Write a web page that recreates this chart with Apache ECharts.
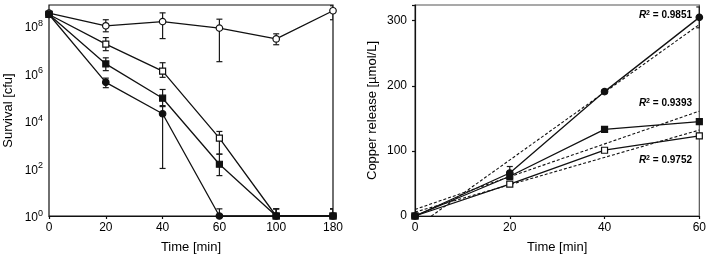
<!DOCTYPE html>
<html>
<head>
<meta charset="utf-8">
<script src="https://cdn.jsdelivr.net/npm/echarts@6/dist/echarts.min.js"></script>
<style>
  html, body { margin: 0; padding: 0; background: #fff; }
  #chart { width: 709px; height: 259px; }
</style>
</head>
<body>
<div id="chart"></div>
<script>
// ---- left panel: survival (log scale) ----
const timeCats = ['0', '20', '40', '60', '100', '180'];

const ctrlVals = [3.4e8, 1.0e8, 1.5e8, 8e7, 2.8e7, 4.3e8];
const ctrlLow  = [3.0e8, 5.6e7, 2.9e7, 3.1e6, 1.6e7, 1.8e8];
const ctrlHigh = [3.8e8, 1.8e8, 3.5e8, 1.9e8, 4.6e7, 7.0e8];

const openSqVals = [3.0e8, 1.7e7, 1.25e6, 1.9e3, 1, 1];
const openSqLow  = [3.0e8, 9e6, 6.8e5, 4e2, 1, 1];
const openSqHigh = [3.0e8, 3.2e7, 2.8e6, 3.6e3, 2, 2];

const fillSqVals = [3.0e8, 2.5e6, 9e4, 1.5e2, 1, 1];
const fillSqLow  = [3.0e8, 1.3e6, 4.4e4, 50, 1, 1];
const fillSqHigh = [3.0e8, 4.5e6, 2.1e5, 4e2, 2, 2];

const fillCiVals = [3.0e8, 4.2e5, 2e4, 1, 1, 1];
const fillCiLow  = [3.0e8, 2.5e5, 1e2, 1, 1, 1];
const fillCiHigh = [3.0e8, 6.3e5, 4e4, 2, 2, 2];

// ---- right panel: copper release ----
const cuTimes = [0, 20, 40, 60];
const cuCircle = [0, 66, 191, 305];
const cuCircleErr = [0, 10, 3, 16];
const cuSquare = [0, 61, 133, 145];
const cuSquareErr = [0, 4, 2, 3];
const cuOpen = [0, 49, 101, 123];
const cuOpenErr = [0, 2, 2, 3];

// regression lines, end points
const fitTimes = [0, 60];
const fitCircle = [-18, 294];
const fitSquare = [10, 161];
const fitOpen = [6, 132];
const r2Labels = ['0.9851', '0.9393', '0.9752'];

const font = 'Liberation Sans, Arial, sans-serif';
const ink = '#000';

function errorBar(params, api) {
  const x = api.value(0);
  const lo = api.coord([x, api.value(1)]);
  const hi = api.coord([x, api.value(2)]);
  const w = 3;
  const st = { stroke: '#1a1a1a', lineWidth: 1.2 };
  return {
    type: 'group',
    children: [
      { type: 'line', shape: { x1: lo[0], y1: lo[1], x2: hi[0], y2: hi[1] }, style: st },
      { type: 'line', shape: { x1: lo[0] - w, y1: lo[1], x2: lo[0] + w, y2: lo[1] }, style: st },
      { type: 'line', shape: { x1: hi[0] - w, y1: hi[1], x2: hi[0] + w, y2: hi[1] }, style: st }
    ]
  };
}

const errSeries = (xs, low, high, axisIdx) => ({
  type: 'custom',
  xAxisIndex: axisIdx,
  yAxisIndex: axisIdx,
  renderItem: errorBar,
  clip: true,
  z: 1,
  silent: true,
  data: xs.map((x, i) => [x, low[i], high[i]])
});

const lineSeries = (xs, vals, symbol, filled, axisIdx) => ({
  type: 'line',
  xAxisIndex: axisIdx,
  yAxisIndex: axisIdx,
  data: xs.map((x, i) => [x, vals[i]]),
  symbol: symbol,
  symbolSize: symbol === 'rect' ? 6 : 6.5,
  showAllSymbol: true,
  z: 3,
  lineStyle: { color: '#111', width: 1.3 },
  itemStyle: { color: filled ? '#111' : '#fff', borderColor: '#111', borderWidth: 1.2 }
});

const fitSeries = (vals) => ({
  type: 'line',
  xAxisIndex: 1,
  yAxisIndex: 1,
  data: fitTimes.map((x, i) => [x, vals[i]]),
  symbol: 'none',
  z: 2,
  lineStyle: { color: '#111', width: 1.1, type: [3, 2] }
});

const tickLabel = { color: ink, fontFamily: font, fontSize: 12 };
const nameStyle = { color: ink, fontFamily: font, fontSize: 13 };
const axisLine = { lineStyle: { color: '#111', width: 1.2 } };
const axisTick = { length: 3, lineStyle: { color: '#111', width: 1.2 } };

const chart = echarts.init(document.getElementById('chart'), null, { renderer: 'canvas' });

chart.setOption({
  animation: false,
  backgroundColor: '#fff',
  grid: [
    { left: 49, right: 376, top: 5, bottom: 41, show: true, borderColor: '#111', borderWidth: 1.2 },
    { left: 415, right: 8, top: 5, bottom: 42, show: true, borderColor: '#555', borderWidth: 1.2 }
  ],
  xAxis: [
    {
      gridIndex: 0, type: 'category', data: timeCats, boundaryGap: false,
      name: 'Time [min]', nameLocation: 'middle', nameGap: 25, nameTextStyle: nameStyle,
      axisLine, axisTick: { ...axisTick, alignWithLabel: true },
      axisLabel: { ...tickLabel, margin: 6 }, splitLine: { show: false }
    },
    {
      gridIndex: 1, type: 'value', min: 0, max: 60, interval: 20,
      name: 'Time [min]', nameLocation: 'middle', nameGap: 25, nameTextStyle: nameStyle,
      axisLine, axisTick, axisLabel: { ...tickLabel, margin: 6 }, splitLine: { show: false }
    }
  ],
  yAxis: [
    {
      gridIndex: 0, type: 'log', logBase: 10, min: 1, max: 7.5e8,
      name: 'Survival [cfu]', nameLocation: 'middle', nameGap: 34, nameTextStyle: nameStyle,
      axisLine, axisTick,
      axisLabel: {
        ...tickLabel, margin: 6,
        formatter: v => {
          const l = Math.log10(v);
          const e = Math.round(l);
          if (Math.abs(l - e) > 1e-6 || e % 2 !== 0) return '';
          return '{b|10}{s|' + e + '}';
        },
        rich: {
          b: { fontFamily: font, fontSize: 12, color: ink, padding: [4, 0, 0, 0] },
          s: { fontFamily: font, fontSize: 9, color: ink, padding: [0, 0, 5, 0] }
        }
      },
      splitLine: { show: false }
    },
    {
      gridIndex: 1, type: 'value', min: 0, max: 324, interval: 100,
      name: 'Copper release [µmol/L]', nameLocation: 'middle', nameGap: 36, nameTextStyle: nameStyle,
      axisLine, axisTick,
      axisLabel: { ...tickLabel, margin: 8, formatter: v => (v % 100 === 0 ? String(v) : '') },
      splitLine: { show: false }
    }
  ],
  graphic: r2Labels.map((r, i) => ({
    type: 'text',
    right: 17,
    top: [10, 98, 155][i],
    style: {
      text: '{r|R}{s|2}{t| = ' + r + '}',
      rich: {
        r: { fontFamily: font, fontSize: 10, fontStyle: 'italic', fontWeight: 'bold', fill: ink },
        s: { fontFamily: font, fontSize: 7, fontWeight: 'bold', fill: ink, verticalAlign: 'top', padding: [0, 0, 4, 0] },
        t: { fontFamily: font, fontSize: 10, fontWeight: 'bold', fill: ink }
      }
    }
  })),
  series: [
    errSeries(timeCats, ctrlLow, ctrlHigh, 0),
    errSeries(timeCats, openSqLow, openSqHigh, 0),
    errSeries(timeCats, fillSqLow, fillSqHigh, 0),
    errSeries(timeCats, fillCiLow, fillCiHigh, 0),
    lineSeries(timeCats, ctrlVals, 'circle', false, 0),
    lineSeries(timeCats, openSqVals, 'rect', false, 0),
    lineSeries(timeCats, fillCiVals, 'circle', true, 0),
    lineSeries(timeCats, fillSqVals, 'rect', true, 0),

    fitSeries(fitCircle),
    fitSeries(fitSquare),
    fitSeries(fitOpen),
    errSeries(cuTimes, cuCircle.map((v, i) => v - cuCircleErr[i]), cuCircle.map((v, i) => v + cuCircleErr[i]), 1),
    errSeries(cuTimes, cuSquare.map((v, i) => v - cuSquareErr[i]), cuSquare.map((v, i) => v + cuSquareErr[i]), 1),
    errSeries(cuTimes, cuOpen.map((v, i) => v - cuOpenErr[i]), cuOpen.map((v, i) => v + cuOpenErr[i]), 1),
    lineSeries(cuTimes, cuOpen, 'rect', false, 1),
    lineSeries(cuTimes, cuSquare, 'rect', true, 1),
    lineSeries(cuTimes, cuCircle, 'circle', true, 1)
  ]
});
</script>
</body>
</html>
